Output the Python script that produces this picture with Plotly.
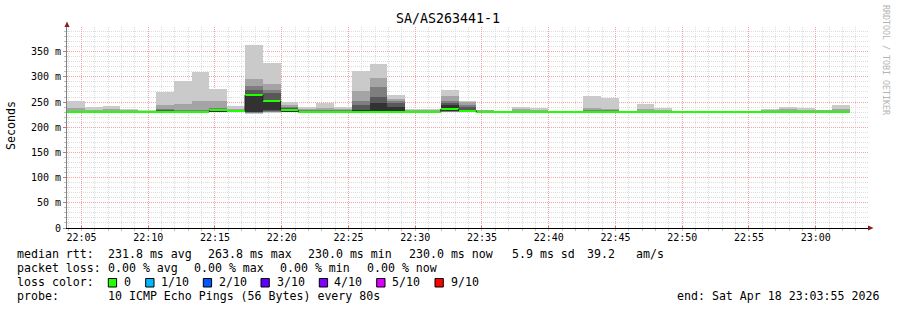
import plotly.graph_objects as go
import pandas as pd

# ---------------- data ----------------
chart_title = "SA/AS263441-1"
time_start = "2026-04-18 22:03:55"
time_end = "2026-04-18 23:03:55"
step_seconds = 80

median = [230.5, 230.5, 230.5, 230.5, 230.4, 230.8, 230.8, 230.8, 233.3, 233.0,
          263.8, 252.5, 233.6, 230.8, 230.8, 230.8, 231.0, 231.0, 231.0, 230.8,
          230.8, 236.5, 233.0, 230.6, 230.5, 230.6, 230.6, 230.5, 230.5, 230.6,
          230.6, 230.5, 230.5, 230.5, 230.4, 230.4, 230.4, 230.4, 230.4, 230.4,
          230.4, 230.4, 230.4, 230.0]

ping1 = [229.5, 229.5, 229.5, 229.5, 229.5, 229.5, 229.5, 229.5, 229.5, 229.5,
         227.0, 229.0, 229.5, 229.5, 229.5, 229.5, 229.5, 229.0, 229.5, 229.5,
         229.5, 229.5, 229.5, 229.5, 229.8, 229.5, 229.5, 229.8, 229.8, 229.5,
         229.5, 229.8, 229.5, 229.5, 229.8, 229.8, 229.8, 229.8, 229.8, 229.5,
         229.5, 229.5, 229.5, 229.5]
ping2 = [230.0, 230.0, 230.0, 230.0, 230.0, 230.0, 230.0, 230.0, 230.0, 230.0,
         228.0, 230.0, 230.0, 230.0, 230.0, 230.0, 230.0, 229.8, 230.0, 230.0,
         230.0, 230.0, 230.0, 230.0, 230.0, 230.0, 230.0, 230.0, 230.0, 230.0,
         230.0, 230.0, 230.0, 230.0, 230.0, 230.0, 230.0, 230.0, 230.0, 230.0,
         230.0, 230.0, 230.0, 229.8]
ping3 = [230.0, 230.0, 230.0, 230.0, 230.0, 230.0, 230.0, 230.0, 230.5, 230.5,
         229.0, 231.0, 230.5, 230.0, 230.0, 230.0, 230.3, 230.2, 230.3, 230.0,
         230.0, 230.5, 230.3, 230.0, 230.0, 230.0, 230.0, 230.0, 230.0, 230.0,
         230.0, 230.0, 230.0, 230.0, 230.0, 230.0, 230.0, 230.0, 230.0, 230.0,
         230.0, 230.0, 230.0, 229.9]
ping4 = [230.0, 230.0, 230.0, 230.0, 230.0, 230.3, 230.3, 230.3, 231.0, 231.0,
         230.0, 232.0, 231.0, 230.3, 230.3, 230.3, 230.5, 230.5, 230.6, 230.3,
         230.3, 231.5, 230.8, 230.3, 230.2, 230.3, 230.3, 230.2, 230.2, 230.3,
         230.3, 230.2, 230.3, 230.3, 230.2, 230.2, 230.2, 230.2, 230.2, 230.3,
         230.3, 230.3, 230.3, 230.0]
ping5 = [230.3, 230.3, 230.3, 230.3, 230.2, 230.5, 230.5, 230.5, 232.0, 232.0,
         231.0, 234.6, 232.0, 230.5, 230.5, 230.5, 231.0, 230.8, 231.0, 230.5,
         230.5, 233.0, 231.5, 230.5, 230.4, 230.5, 230.5, 230.4, 230.4, 230.5,
         230.5, 230.4, 230.5, 230.5, 230.4, 230.4, 230.4, 230.4, 230.4, 230.5,
         230.5, 230.5, 230.5, 230.0]
ping6 = [230.5, 230.5, 230.5, 230.5, 230.4, 231.0, 231.0, 231.0, 233.5, 233.0,
         263.8, 252.5, 233.6, 230.8, 230.8, 230.8, 234.0, 248.6, 240.0, 230.8,
         230.8, 244.6, 233.0, 230.8, 230.6, 230.7, 230.7, 230.6, 230.6, 230.8,
         230.8, 230.6, 230.7, 230.7, 230.6, 230.6, 230.6, 230.6, 230.6, 230.7,
         230.7, 230.7, 230.7, 230.0]
ping7 = [231.0, 231.0, 231.0, 231.0, 231.0, 233.0, 232.0, 232.0, 235.0, 234.0,
         274.0, 268.0, 238.0, 232.0, 232.0, 232.0, 244.6, 260.0, 248.0, 231.5,
         231.5, 249.0, 240.0, 231.5, 230.8, 231.5, 231.5, 230.8, 230.8, 232.0,
         232.0, 230.8, 231.5, 231.5, 230.8, 230.8, 230.8, 230.8, 230.8, 231.5,
         231.5, 231.5, 231.0, 231.0]
ping8 = [233.0, 232.0, 233.0, 232.0, 231.5, 237.0, 235.0, 235.0, 238.0, 235.0,
         281.0, 274.0, 241.0, 234.0, 235.0, 234.0, 252.5, 279.0, 253.0, 232.5,
         232.5, 253.0, 244.6, 232.5, 231.0, 233.0, 233.0, 231.0, 231.0, 234.0,
         234.0, 231.0, 233.0, 233.0, 231.0, 231.0, 231.0, 231.0, 231.0, 232.5,
         233.0, 233.0, 232.0, 233.0]
ping9 = [238.0, 235.0, 236.0, 234.0, 232.5, 245.0, 247.0, 252.5, 252.5, 236.6,
         296.0, 286.0, 244.6, 236.0, 238.0, 236.0, 272.0, 297.6, 256.5, 234.0,
         234.0, 262.5, 249.6, 233.5, 231.2, 236.0, 235.0, 231.2, 231.2, 238.6,
         237.0, 231.2, 236.0, 235.0, 231.2, 231.2, 231.2, 231.2, 231.2, 234.0,
         236.0, 235.0, 233.5, 236.6]
ping10 = [252.5, 240.6, 243.0, 237.0, 234.6, 269.5, 291.0, 309.0, 275.5, 241.5,
          364.0, 328.0, 250.5, 240.0, 249.0, 241.0, 312.0, 326.0, 264.5, 236.6,
          236.6, 274.4, 253.0, 234.6, 231.5, 240.6, 238.6, 231.5, 231.5, 262.5,
          259.0, 231.5, 246.6, 238.6, 231.5, 231.5, 231.5, 231.5, 231.5, 236.6,
          240.6, 238.6, 234.6, 244.6]

y_tick_vals = [0, 50, 100, 150, 200, 250, 300, 350]
y_tick_text = ["0", "50 m", "100 m", "150 m", "200 m", "250 m", "300 m", "350 m"]

legend_rtt = [("median rtt:", 16), ("231.8 ms avg", 107), ("263.8 ms max", 207),
              ("230.0 ms min", 306.5), ("230.0 ms now", 408), ("5.9 ms sd", 511),
              ("39.2", 586), ("am/s", 635)]
legend_loss = [("packet loss:", 16), ("0.00 % avg", 107), ("0.00 % max", 193),
               ("0.00 % min", 279), ("0.00 % now", 365.5)]
loss_labels = ["0", "1/10", "2/10", "3/10", "4/10", "5/10", "9/10"]
loss_colors = ["#20ff00", "#00b8ff", "#0059ff", "#5e00ff", "#7e00ff", "#dd00ff", "#ff0000"]
probe_text = "10 ICMP Echo Pings (56 Bytes) every 80s"
end_text = "end: Sat Apr 18 23:03:55 2026"

# ---------------- geometry ----------------
FIG_W, FIG_H = 897, 310
L, R, T, B = 67, 29, 27, 82
W = FIG_W - L - R
H = FIG_H - T - B
MONO = "DejaVu Sans Mono"


def PX(px):
    return (px - L) / W


def PY(py):
    return (T + H - py) / H


n = len(median)
t0 = pd.Timestamp(time_start)
step = pd.Timedelta(seconds=step_seconds)
starts = [t0 + i * step for i in range(n)]
centers = [s + step / 2 for s in starts]
width_ms = step_seconds * 1000

pings = [ping1, ping2, ping3, ping4, ping5, ping6, ping7, ping8, ping9, ping10]
smoke_colors = ["#cacaca", "#a4a4a4", "#7e7e7e", "#585858", "#323232"]

fig = go.Figure()
for i in range(5):
    lo = pings[i]
    hi = pings[9 - i]
    fig.add_trace(go.Bar(
        x=centers, base=lo, y=[h - l for h, l in zip(hi, lo)],
        width=width_ms, marker=dict(color=smoke_colors[i], line=dict(width=0)),
        hoverinfo="skip", showlegend=False))

# green median band (loss 0)
swidth = 2.0
fig.add_trace(go.Bar(
    x=centers, base=[m - swidth for m in median], y=[2 * swidth] * n,
    width=width_ms, marker=dict(color=loss_colors[0], line=dict(width=0)),
    hoverinfo="skip", showlegend=False))

# dark risers of the median line at step changes
rx, ry = [], []
for k in range(1, n):
    if abs(median[k] - median[k - 1]) > 1.5:
        rx += [starts[k], starts[k], None]
        ry += [median[k - 1], median[k], None]
fig.add_trace(go.Scatter(x=rx, y=ry, mode="lines",
                         line=dict(color="#202020", width=1),
                         hoverinfo="skip", showlegend=False))

fig.update_layout(
    width=FIG_W, height=FIG_H,
    margin=dict(l=L, r=R, t=T, b=B, pad=0),
    paper_bgcolor="white", plot_bgcolor="white",
    barmode="overlay", bargap=0,
    showlegend=False,
    font=dict(family=MONO, size=10, color="black"),
)

fig.update_xaxes(
    type="date", range=[time_start, time_end],
    tickformat="%H:%M", dtick=300000, tick0="2026-04-18 22:05:00",
    showgrid=True, gridcolor="#f2a4a4", gridwidth=1, griddash="1px,1px",
    ticks="inside", ticklen=2, tickcolor="#e07070",
    minor=dict(dtick=60000, showgrid=True, gridcolor="#dcdcdc", griddash="1px,1px",
               ticks="outside", ticklen=2, tickcolor="#c0c0c0"),
    showline=True, linecolor="black", linewidth=1,
    zeroline=False, tickfont=dict(family=MONO, size=10, color="black"),
    fixedrange=True,
)
fig.update_yaxes(
    range=[0, 399], tickvals=y_tick_vals, ticktext=y_tick_text,
    showgrid=True, gridcolor="#f2a4a4", gridwidth=1, griddash="1px,1px",
    ticks="outside", ticklen=3, tickcolor="#e07070",
    minor=dict(dtick=10, showgrid=True, gridcolor="#dcdcdc", griddash="1px,1px",
               ticks="outside", ticklen=2, tickcolor="#c0c0c0"),
    showline=True, linecolor="#808080", linewidth=1,
    zeroline=False, tickfont=dict(family=MONO, size=10, color="black"),
    fixedrange=True,
)

ann = []


def text(s, x, y, size=11.6, xanchor="left", color="black", angle=0):
    ann.append(dict(text=s, x=PX(x), y=PY(y), xref="paper", yref="paper",
                    xanchor=xanchor, yanchor="middle", showarrow=False,
                    borderpad=0, textangle=angle,
                    font=dict(family=MONO, size=size, color=color)))


text(chart_title, 448, 19, size=13.3, xanchor="center")
text("Seconds", 11, 126, size=11.6, xanchor="center", angle=-90)
text("RRDTOOL / TOBI OETIKER", 886, 60, size=8.3, xanchor="center",
     color="#b4b4b4", angle=90)

for s, x in legend_rtt:
    text(s, x, 254.3)
for s, x in legend_loss:
    text(s, x, 268.3)
text("loss color:", 16, 282.3)
sq_x = [108.3, 145.7, 203.3, 261, 319.3, 376.7, 435]
lab_x = [123.3, 160.3, 218.3, 276, 333.3, 391, 450]
shapes = []
for lab, col, sx, lx in zip(loss_labels, loss_colors, sq_x, lab_x):
    shapes.append(dict(type="rect", xref="paper", yref="paper",
                       x0=PX(sx), x1=PX(sx + 8.3), y0=PY(287), y1=PY(278.5),
                       fillcolor=col, line=dict(color="black", width=1)))
    text(lab, lx, 282.3)
text("probe:", 16, 296)
text(probe_text, 107, 296)
text(end_text, 880.5, 296, xanchor="right")

# axis arrows
shapes.append(dict(type="path", xref="paper", yref="paper",
                   path=f"M {PX(64.5)} {PY(27)} L {PX(69.5)} {PY(27)} L {PX(67)} {PY(21.5)} Z",
                   fillcolor="#8b1a1a", line=dict(width=0)))
shapes.append(dict(type="path", xref="paper", yref="paper",
                   path=f"M {PX(868)} {PY(225.5)} L {PX(868)} {PY(230.5)} L {PX(873.5)} {PY(228)} Z",
                   fillcolor="#8b1a1a", line=dict(width=0)))

fig.update_layout(annotations=ann, shapes=shapes)

fig.write_html("out.html")
